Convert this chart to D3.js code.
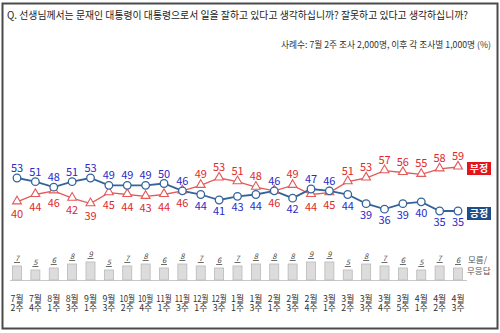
<!DOCTYPE html>
<html><head><meta charset="utf-8">
<script src="https://cdn.jsdelivr.net/npm/d3@7"></script>
<style>
html,body{margin:0;padding:0;background:#fff;}
svg{display:block;}
text{font-family:"Noto Sans CJK KR","Noto Sans",sans-serif;}
</style></head>
<body>
<svg id="c" width="500" height="333"></svg>
<script>
const categories = ["7월 2주","7월 4주","8월 1주","8월 3주","9월 1주","9월 3주","10월 2주","10월 4주","11월 1주","11월 3주","12월 1주","12월 3주","1월 1주","1월 3주","2월 1주","2월 3주","2월 4주","3월 1주","3월 2주","3월 3주","3월 4주","3월 5주","4월 1주","4월 2주","4월 3주"];
const positive = [53,51,48,51,53,49,49,49,50,46,44,41,43,44,46,42,47,46,44,39,36,39,40,35,35];
const negative = [40,44,46,42,39,45,44,43,44,46,49,53,51,48,46,49,44,45,51,53,57,56,55,58,59];
const dontKnow = [7,5,6,8,9,5,7,8,6,8,7,6,7,8,8,8,9,9,5,8,7,6,5,7,6];
const titleText = "Q. 선생님께서는 문재인 대통령이 대통령으로서 일을 잘하고 있다고 생각하십니까? 잘못하고 있다고 생각하십니까?";
const subtitleText = "사례수: 7월 2주 조사 2,000명, 이후 각 조사별 1,000명 (%)";
const legendLabels = ["부정","긍정"];
const dkLabel = ["모름/","무응답"];

const svg = d3.select("#c");
// frame
svg.append("rect").attr("x",2.5).attr("y",3.5).attr("width",495).attr("height",325)
  .attr("fill","#fff").attr("stroke","#4a4a4a").attr("stroke-width",2);

svg.append("text").attr("x",7).attr("y",19).attr("font-size",10.5).attr("fill","#222")
  .attr("textLength",461).attr("lengthAdjust","spacingAndGlyphs").text(titleText);
svg.append("text").attr("x",281).attr("y",48).attr("font-size",9).attr("fill","#333")
  .attr("textLength",210).attr("lengthAdjust","spacingAndGlyphs").text(subtitleText);

const x = d3.scalePoint().domain(categories).range([17,458]);
const y = d3.scaleLinear().domain([35,59]).range([211,167]);
const yb = d3.scaleLinear().domain([0,9]).range([280,262]);

// bars
const bw = 9;
svg.append("line").attr("x1",10).attr("x2",467).attr("y1",yb(0)+0.5).attr("y2",yb(0)+0.5)
  .attr("stroke","#c8c8c8").attr("stroke-width",1);
svg.selectAll("rect.bar").data(dontKnow).join("rect").attr("class","bar")
  .attr("x",(d,i)=>x(categories[i])-bw/2).attr("y",d=>yb(d))
  .attr("width",bw).attr("height",d=>yb(0)-yb(d))
  .attr("fill","#dcdcdc").attr("stroke","#b8b8b8").attr("stroke-width",0.8);
const bl = svg.selectAll("g.bl").data(dontKnow).join("g").attr("class","bl");
bl.append("text").attr("x",(d,i)=>x(categories[i])).attr("y",d=>yb(d)-5)
  .attr("text-anchor","middle").attr("font-size",7.5).attr("font-style","italic")
  .attr("fill","#444").attr("font-family","Liberation Sans, sans-serif").text(d=>d);
bl.append("line").attr("x1",(d,i)=>x(categories[i])-3).attr("x2",(d,i)=>x(categories[i])+3)
  .attr("y1",d=>yb(d)-3.5).attr("y2",d=>yb(d)-3.5).attr("stroke","#444").attr("stroke-width",0.8);

svg.append("text").attr("x",468).attr("y",263).attr("font-size",8.5).attr("fill","#555").text(dkLabel[0]);
svg.append("text").attr("x",467).attr("y",274).attr("font-size",8.5).attr("fill","#555").text(dkLabel[1]);

// x labels (two separate lines, condensed when wide)
[0,1].forEach(k=>{
  svg.selectAll("text.xl"+k).data(categories).join("text").attr("class","xl"+k)
    .attr("x",d=>x(d)).attr("y",k===0?302:310.5)
    .attr("text-anchor","middle").attr("font-size",8.8).attr("fill","#333")
    .text(d=>d.split(" ")[k])
    .each(function(){ const w=this.getComputedTextLength(); if(w>15.5){ d3.select(this).attr("textLength",15.5).attr("lengthAdjust","spacingAndGlyphs"); } });
});

// lines
const blue = "#34649a", red = "#e25a5a";
const line = d3.line().x((d,i)=>x(categories[i])).y(d=>y(d));
svg.append("path").datum(negative).attr("d",line).attr("fill","none").attr("stroke",red).attr("stroke-width",1.3);
svg.append("path").datum(positive).attr("d",line).attr("fill","none").attr("stroke",blue).attr("stroke-width",1.8);

const tri = d3.symbol().type(d3.symbolTriangle).size(34);
svg.selectAll("path.tri").data(negative).join("path").attr("class","tri")
  .attr("d",tri).attr("transform",(d,i)=>`translate(${x(categories[i])},${y(d)-0.5})`)
  .attr("fill","#fff").attr("stroke",red).attr("stroke-width",1.1);
svg.selectAll("circle.pt").data(positive).join("circle").attr("class","pt")
  .attr("cx",(d,i)=>x(categories[i])).attr("cy",d=>y(d)).attr("r",3.8)
  .attr("fill","#fff").attr("stroke",blue).attr("stroke-width",1.3);

const lblFont = "Liberation Sans Narrow, Liberation Sans, sans-serif";
svg.selectAll("text.pl").data(positive).join("text").attr("class","pl")
  .attr("x",(d,i)=>x(categories[i]))
  .attr("y",(d,i)=> d>=negative[i] ? y(d)-6 : y(d)+15)
  .attr("text-anchor","middle").attr("font-size",11).attr("fill","#2a2ac8")
  .attr("font-family",lblFont).text(d=>d);
svg.selectAll("text.nl").data(negative).join("text").attr("class","nl")
  .attr("x",(d,i)=>x(categories[i]))
  .attr("y",(d,i)=> d>positive[i] ? y(d)-7 : y(d)+16)
  .attr("text-anchor","middle").attr("font-size",11).attr("fill","#e0282c")
  .attr("font-family",lblFont).text(d=>d);

// legend boxes
const legColors = ["#e3141c","#1e4d8a"];
const legY = [y(negative[negative.length-1])-5, y(positive[positive.length-1])-4];
legendLabels.forEach((t,i)=>{
  svg.append("rect").attr("x",467).attr("y",legY[i]).attr("width",24).attr("height",13).attr("fill",legColors[i]);
  svg.append("text").attr("x",479).attr("y",legY[i]+10).attr("text-anchor","middle")
    .attr("font-size",10).attr("font-weight","bold").attr("fill","#fff").text(t);
});
</script>
</body></html>
